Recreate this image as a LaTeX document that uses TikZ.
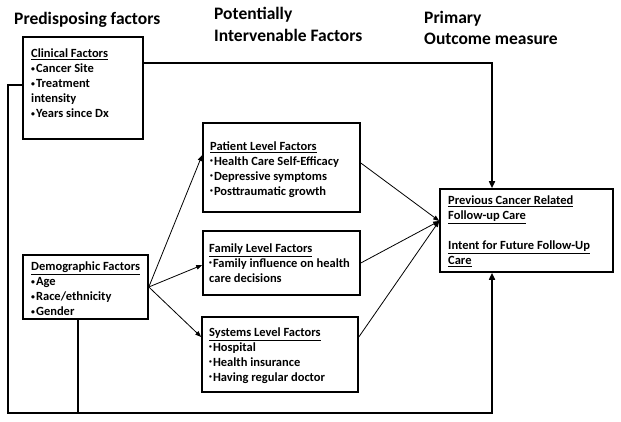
\documentclass[tikz,border=0pt]{standalone}
\usepackage{fontspec}
\setmainfont{Carlito}
\usetikzlibrary{arrows.meta}
\newcommand\bul{\raisebox{1.6pt}{\scalebox{0.62}{•}}\hspace{1pt}}
\newcommand\sbul{\raisebox{3pt}{\scalebox{0.45}{•}}\hspace{1pt}}
\begin{document}
\begin{tikzpicture}[x=1pt,y=-1pt,
  box/.style={draw,line width=1.6pt,minimum width=#1,inner sep=0pt},
  txt/.style={anchor=north west,inner sep=0pt,align=left,font=\fontsize{12.5}{15}\bfseries},
  head/.style={anchor=north west,inner sep=0pt,align=left,font=\fontsize{17.5}{21.5}\bfseries},
  conn/.style={line width=1.6pt},
  thin/.style={line width=0.8pt,-{Triangle[length=6pt,width=4.5pt]}},
  bigarr/.style={conn,-{Triangle[length=7pt,width=6pt]}}]
\useasboundingbox (0,0) rectangle (621,422);
% headers
\node[head] (h1) at (14,12) {Predisposing factors};
\node[head] (h2) at (214,7) {Potentially\\Intervenable Factors};
\node[head] (h3) at (424,11) {Primary\\Outcome measure};
% boxes
\node[box=120pt,minimum height=102pt] (clin) at (83,88) {};
\node[box=125pt,minimum height=64pt] (demo) at (85.5,287) {};
\node[box=157pt,minimum height=89pt] (pat) at (281.5,167.5) {};
\node[box=157pt,minimum height=64pt] (fam) at (281.5,263) {};
\node[box=156pt,minimum height=75pt] (sys) at (280,354.5) {};
\node[box=173pt,minimum height=83pt] (out) at (526.5,230.5) {};
% texts
\node[txt] (clint) at (31,49) {\underline{Clinical Factors}\\\bul Cancer Site\\\bul Treatment\\intensity\\\bul Years since Dx};
\node[txt] (demot) at (31,262) {\underline{Demographic Factors}\\\bul Age\\\bul Race/ethnicity\\\bul Gender};
\node[txt] (patt) at (210,141.5) {\underline{Patient Level Factors}\\\sbul Health Care Self-Efficacy\\\sbul Depressive symptoms\\\sbul Posttraumatic growth};
\node[txt] (famt) at (209,244) {\underline{Family Level Factors}\\\sbul Family influence on health\\care decisions};
\node[txt] (syst) at (209,328) {\underline{Systems Level Factors}\\\sbul Hospital\\\sbul Health insurance\\\sbul Having regular doctor};
\node[txt] (outt) at (448,196) {\underline{Previous Cancer Related}\\\underline{Follow-up Care}\\[15pt]\underline{Intent for Future Follow-Up}\\\underline{Care}};
% connectors
\coordinate (bl) at (8,413);
\draw[bigarr] ([yshift=25pt]clin.east) -| ([xshift=-34.5pt]out.north);
\draw[bigarr] ([yshift=3pt]clin.west) -| (bl) -| ([xshift=-34.5pt]out.south);
\draw[conn] ([xshift=-7.5pt]demo.south) -- ([xshift=-7.5pt]demo.south |- bl);
\draw[thin] (demo.east) -- ([yshift=12.5pt]pat.west);
\draw[thin] (demo.east) -- ([yshift=-2pt]fam.west);
\draw[thin] (demo.east) -- ([yshift=17.5pt]sys.west);
\draw[thin] ([yshift=4.5pt]pat.east) -- ([yshift=9.5pt]out.west);
\draw[thin] (fam.east) -- ([yshift=9.5pt]out.west);
\draw[thin] ([yshift=17.5pt]sys.east) -- ([yshift=9.5pt]out.west);
\end{tikzpicture}
\end{document}
